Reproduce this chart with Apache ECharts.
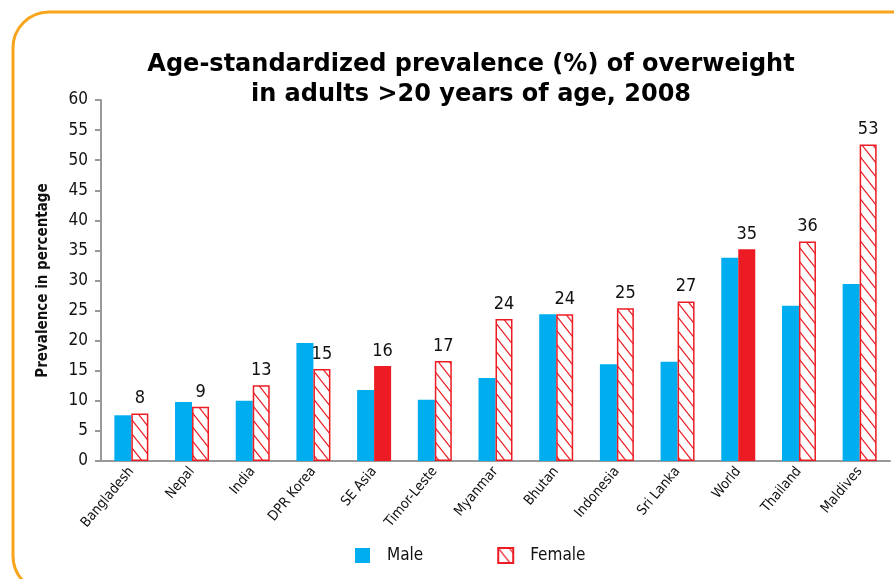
<!DOCTYPE html>
<html lang="en">
<head>
  <meta charset="UTF-8">
  <title>Overweight prevalence</title>
  <style>
    html, body { margin: 0; padding: 0; background: #fff; }
  </style>
</head>
<body>
  <div id="main" style="width: 894px;height:579px;"></div>
  <script src="https://cdn.jsdelivr.net/npm/echarts@6/dist/echarts.min.js"></script>
  <script type="text/javascript">
    // data
    var countries = ['Bangladesh', 'Nepal', 'India', 'DPR Korea', 'SE Asia', 'Timor-Leste', 'Myanmar',
      'Bhutan', 'Indonesia', 'Sri Lanka', 'World', 'Thailand', 'Maldives'];
    var male = [7.6, 9.8, 10.0, 19.6, 11.8, 10.2, 13.8, 24.4, 16.1, 16.5, 33.8, 25.8, 29.4];
    var female = [7.9, 9.0, 12.6, 15.3, 15.8, 16.6, 23.6, 24.4, 25.4, 26.5, 35.2, 36.5, 52.6];
    var femaleLabels = ['8', '9', '13', '15', '16', '17', '24', '24', '25', '27', '35', '36', '53'];
    var solidFemale = ['SE Asia', 'World'];
    var yTicks = [0, 60, 5]; // min, max, step

    var BLUE = '#00AEEF';
    var RED = '#ED1C24';
    var NARROW = "'Liberation Sans Narrow', 'DejaVu Sans Condensed', 'Arial Narrow', sans-serif";

    // hatch pattern: white with red "\" stripes
    function makeHatch() {
      var w = 11, h = 14;
      var c = document.createElement('canvas');
      c.width = w; c.height = h;
      var ctx = c.getContext('2d');
      ctx.fillStyle = '#fff';
      ctx.fillRect(0, 0, w, h);
      ctx.strokeStyle = RED;
      ctx.lineWidth = 1.2;
      for (var k = -1; k <= 1; k++) {
        ctx.beginPath();
        ctx.moveTo(k * w - w, -h);
        ctx.lineTo(k * w + 2 * w, 2 * h);
        ctx.stroke();
      }
      return c;
    }
    var hatch = { image: makeHatch(), repeat: 'repeat' };

    var femaleData = female.map(function (v, i) {
      var solid = solidFemale.indexOf(countries[i]) >= 0;
      return {
        value: v,
        label: { formatter: femaleLabels[i] },
        itemStyle: solid ? { color: RED, borderColor: RED } : {}
      };
    });

    var myChart = echarts.init(document.getElementById('main'));
    var option = {
      animation: false,
      title: {
        text: 'Age-standardized prevalence (%) of overweight\nin adults >20 years of age, 2008',
        left: 466,
        top: 45,
        textAlign: 'center',
        textStyle: {
          fontFamily: 'DejaVu Sans',
          fontWeight: 'bold',
          fontSize: 24,
          lineHeight: 30,
          color: '#000'
        }
      },
      graphic: [{
        type: 'rect',
        shape: { x: 13, y: 12, width: 950, height: 580, r: 36 },
        style: { fill: 'none', stroke: '#F7A51C', lineWidth: 3 },
        z: -1
      }],
      legend: {
        left: 350,
        top: 542,
        itemWidth: 15,
        itemHeight: 15,
        itemGap: 74,
        textStyle: { fontFamily: NARROW, fontSize: 17, color: '#111', padding: [2, 0, 0, 12] },
        data: [
          { name: 'Male', icon: 'rect', itemStyle: { color: BLUE, borderWidth: 0 } },
          { name: 'Female', icon: 'rect', itemStyle: { color: hatch, borderColor: RED, borderWidth: 2 } }
        ]
      },
      grid: { left: 101, right: 4, top: 100, bottom: 118 },
      xAxis: {
        type: 'category',
        data: countries,
        axisLine: { lineStyle: { color: '#999', width: 2 } },
        axisTick: { length: 5, lineStyle: { color: '#999', width: 2 } },
        axisLabel: {
          rotate: 50,
          fontFamily: NARROW,
          fontSize: 14,
          color: '#111',
          margin: 8
        }
      },
      yAxis: {
        type: 'value',
        min: yTicks[0],
        max: yTicks[1],
        interval: yTicks[2],
        name: 'Prevalence in percentage',
        nameLocation: 'middle',
        nameGap: 50,
        nameTextStyle: { fontFamily: NARROW, fontWeight: 'bold', fontSize: 15, color: '#111' },
        axisLine: { show: true, lineStyle: { color: '#999', width: 2 } },
        axisTick: { show: true, length: 6, lineStyle: { color: '#999', width: 2 } },
        splitLine: { show: false },
        axisLabel: { fontFamily: NARROW, fontSize: 17, color: '#111', margin: 13 }
      },
      series: [
        {
          name: 'Male',
          type: 'bar',
          barWidth: 17,
          barGap: '0%',
          itemStyle: { color: BLUE },
          data: male
        },
        {
          name: 'Female',
          type: 'bar',
          barWidth: 17,
          itemStyle: { color: hatch, borderColor: RED, borderWidth: 1.5 },
          label: {
            show: true,
            position: 'top',
            distance: 6,
            fontFamily: NARROW,
            fontSize: 18,
            color: '#111'
          },
          data: femaleData
        }
      ]
    };
    myChart.setOption(option);
  </script>
</body>
</html>
